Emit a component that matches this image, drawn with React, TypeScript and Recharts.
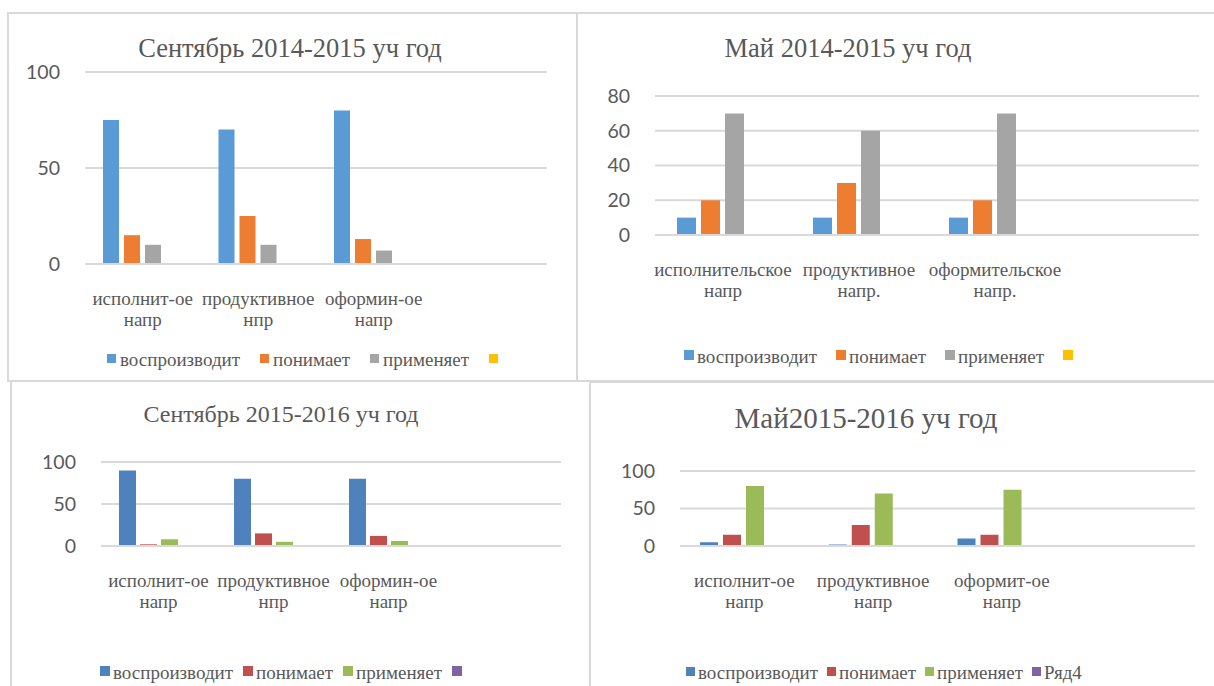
import React from "react";
import { BarChart, Bar, XAxis, YAxis, CartesianGrid, Legend } from "recharts";

// series names
const namesA = ["воспроизводит", "понимает", "применяет", ""];
const namesB = ["воспроизводит", "понимает", "применяет", "Ряд4"];

// Сентябрь 2014-2015
const catsSep1415 = ["исполнит-ое напр", "продуктивное нпр", "оформин-ое напр", ""];
const sep1415Repro = [75, 70, 80];
const sep1415Under = [15, 25, 13];
const sep1415Apply = [10, 10, 7];

// Май 2014-2015
const catsMay1415 = ["исполнительское напр", "продуктивное напр.", "оформительское напр.", ""];
const may1415Repro = [10, 10, 10];
const may1415Under = [20, 30, 20];
const may1415Apply = [70, 60, 70];

// Сентябрь 2015-2016
const catsSep1516 = ["исполнит-ое напр", "продуктивное нпр", "оформин-ое напр", ""];
const sep1516Repro = [90, 80, 80];
const sep1516Under = [2, 15, 12];
const sep1516Apply = [8, 5, 6];

// Май 2015-2016
const catsMay1516 = ["исполнит-ое напр", "продуктивное напр", "оформит-ое напр", ""];
const may1516Repro = [5, 2, 10];
const may1516Under = [15, 28, 15];
const may1516Apply = [80, 70, 75];

const ticks100 = [0, 50, 100];
const ticks80 = [0, 20, 40, 60, 80];

const office2013 = ["#5B9BD5", "#ED7D31", "#A5A5A5", "#FFC000"];
const office2007 = ["#4F81BD", "#C0504D", "#9BBB59", "#8064A2"];

const keys = ["s1", "s2", "s3", "s4"];
const TEXT = "#595959";
const GRID = "#d9d9d9";
const SERIF = "'Liberation Serif', 'Times New Roman', serif";
const SANS = "Lato, 'Open Sans', sans-serif";
const YW = 60;
const XH = 70;

function buildRows(cats: string[], a: number[], b: number[], c: number[]) {
  return cats.map((name, i) => ({
    name,
    s1: a[i] ?? null,
    s2: b[i] ?? null,
    s3: c[i] ?? null,
    s4: null,
  }));
}

function CatTick({ x, y, payload }: any) {
  const v = String(payload?.value ?? "");
  if (!v) return <g />;
  const parts = v.split(" ");
  return (
    <g>
      <text x={x} y={y + 41} textAnchor="middle" fill={TEXT} fontSize={19} fontFamily={SERIF}>
        {parts[0]}
      </text>
      <text x={x} y={y + 62} textAnchor="middle" fill={TEXT} fontSize={19} fontFamily={SERIF}>
        {parts.slice(1).join(" ")}
      </text>
    </g>
  );
}

interface PanelProps {
  box: { x: number; y: number; w: number; h: number };
  plot: { l: number; t: number; r: number; b: number };
  rows: any[];
  ticks: number[];
  colors: string[];
  names: string[];
  catGap: number;
  barGap: number;
  legend: { x: number; baseline: number; sq: number; sqGap: number; itemGap: number };
}

function Panel({ box, plot, rows, ticks, colors, names, catGap, barGap, legend }: PanelProps) {
  const margin = {
    top: plot.t - box.y,
    right: box.x + box.w - plot.r,
    bottom: box.y + box.h - plot.b - XH,
    left: plot.l - box.x - YW,
  };
  const renderLegend = (props: any) => {
    const payload: any[] = props.payload || [];
    // keep series order (the default sorter puts the unnamed series first)
    const items = keys.map((k, i) => {
      const e = payload.find((p) => p.dataKey === k);
      return { color: e ? e.color : colors[i], label: names[i] };
    });
    return (
      <div
        style={{
          fontFamily: SERIF,
          fontSize: 19,
          lineHeight: "19px",
          color: TEXT,
          whiteSpace: "nowrap",
        }}
      >
        {items.map((it, i) => (
          <span key={i} style={{ marginRight: i < items.length - 1 ? legend.itemGap : 0 }}>
            <span
              style={{
                display: "inline-block",
                width: legend.sq,
                height: legend.sq,
                background: it.color,
                marginRight: legend.sqGap,
                verticalAlign: 3,
              }}
            />
            {it.label}
          </span>
        ))}
      </div>
    );
  };
  return (
    <div style={{ position: "absolute", left: box.x, top: box.y }}>
      <BarChart
        width={box.w}
        height={box.h}
        data={rows}
        margin={margin}
        barGap={barGap}
        barCategoryGap={catGap}
      >
        <CartesianGrid vertical={false} stroke={GRID} strokeWidth={2} />
        <XAxis
          dataKey="name"
          interval={0}
          height={XH}
          axisLine={{ stroke: GRID, strokeWidth: 2 }}
          tickLine={false}
          tickSize={0}
          tickMargin={0}
          tick={(p: any) => <CatTick {...p} />}
        />
        <YAxis
          width={YW}
          domain={[0, ticks[ticks.length - 1]]}
          ticks={ticks}
          interval={0}
          axisLine={false}
          tickLine={false}
          tickSize={0}
          tickMargin={25}
          tick={{ fill: TEXT, fontSize: 19.5, fontFamily: SANS }}
        />
        {keys.map((k, i) => (
          <Bar key={k} dataKey={k} name={names[i] || " "} fill={colors[i]} isAnimationActive={false} />
        ))}
        <Legend
          layout="horizontal"
          align="center"
          verticalAlign="middle"
          content={renderLegend}
          wrapperStyle={{
            left: legend.x - box.x,
            top: legend.baseline - 16 - box.y,
            width: "auto",
            height: 20,
          }}
        />
      </BarChart>
    </div>
  );
}

const titles = [
  { text: "Сентябрь 2014-2015 уч год", x: 290, y: 57, size: 26.5 },
  { text: "Май 2014-2015 уч год", x: 848, y: 57, size: 26.5 },
  { text: "Сентябрь 2015-2016 уч год", x: 281, y: 422, size: 24 },
  { text: "Май2015-2016 уч год", x: 866, y: 428, size: 29 },
];

const borders = [
  { x: 7, y: 12, w: 571, h: 370 },
  { x: 576, y: 12, w: 700, h: 370 },
  { x: 10, y: 380, w: 581, h: 400 },
  { x: 589, y: 381, w: 700, h: 400 },
];

export default function App() {
  return (
    <div
      style={{
        position: "absolute",
        left: 0,
        top: 0,
        width: 1214,
        height: 686,
        overflow: "hidden",
        background: "#fff",
      }}
    >
      {borders.map((b, i) => (
        <div
          key={i}
          style={{
            position: "absolute",
            left: b.x,
            top: b.y,
            width: b.w,
            height: b.h,
            border: `2px solid ${GRID}`,
            boxSizing: "border-box",
          }}
        />
      ))}
      <Panel
        box={{ x: 8, y: 12, w: 569, h: 369 }}
        plot={{ l: 85, t: 72, r: 547, b: 264 }}
        rows={buildRows(catsSep1415, sep1415Repro, sep1415Under, sep1415Apply)}
        ticks={ticks100}
        colors={office2013}
        names={namesA}
        catGap={18}
        barGap={5}
        legend={{ x: 107, baseline: 366, sq: 9, sqGap: 4, itemGap: 20 }}
      />
      <Panel
        box={{ x: 577, y: 12, w: 637, h: 369 }}
        plot={{ l: 655, t: 96, r: 1199, b: 235 }}
        rows={buildRows(catsMay1415, may1415Repro, may1415Under, may1415Apply)}
        ticks={ticks80}
        colors={office2013}
        names={namesA}
        catGap={22}
        barGap={5}
        legend={{ x: 684, baseline: 363, sq: 10, sqGap: 3, itemGap: 19 }}
      />
      <Panel
        box={{ x: 10, y: 381, w: 580, h: 305 }}
        plot={{ l: 101, t: 462, r: 561, b: 546 }}
        rows={buildRows(catsSep1516, sep1516Repro, sep1516Under, sep1516Apply)}
        ticks={ticks100}
        colors={office2007}
        names={namesA}
        catGap={18}
        barGap={4}
        legend={{ x: 100, baseline: 679, sq: 10, sqGap: 3, itemGap: 10 }}
      />
      <Panel
        box={{ x: 590, y: 382, w: 624, h: 304 }}
        plot={{ l: 680, t: 471, r: 1195, b: 546 }}
        rows={buildRows(catsMay1516, may1516Repro, may1516Under, may1516Apply)}
        ticks={ticks100}
        colors={office2007}
        names={namesB}
        catGap={20}
        barGap={5}
        legend={{ x: 686, baseline: 679, sq: 9, sqGap: 3, itemGap: 9 }}
      />
      <svg
        width={1214}
        height={686}
        style={{ position: "absolute", left: 0, top: 0, pointerEvents: "none" }}
      >
        {titles.map((t, i) => (
          <text
            key={i}
            x={t.x}
            y={t.y}
            textAnchor="middle"
            fontFamily={SERIF}
            fontSize={t.size}
            fill={TEXT}
          >
            {t.text}
          </text>
        ))}
      </svg>
    </div>
  );
}
